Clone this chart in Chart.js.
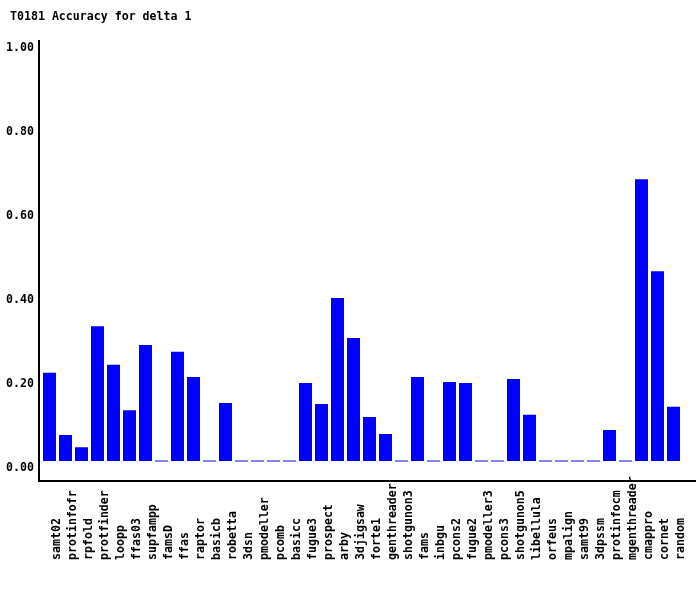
<!DOCTYPE html>
<html>
<head>
<meta charset="utf-8">
<script src="https://cdn.jsdelivr.net/npm/chart.js@4/dist/chart.umd.min.js"></script>
<style>
  body { margin: 0; background: #fff; }
  canvas { display: block; }
</style>
</head>
<body>
<canvas id="bar-chart" width="700" height="590"></canvas>
<script>
const chartTitle = 'T0181 Accuracy for delta 1';
const servers = ['samt02', 'protinfofr', 'rpfold', 'protfinder', 'loopp', 'ffas03', 'supfampp', 'famsD',
    'ffas', 'raptor', 'basicb', 'robetta', '3dsn', 'pmodeller', 'pcomb', 'basicc', 'fugue3', 'prospect',
    'arby', '3djigsaw', 'forte1', 'genthreader', 'shotgunon3', 'fams', 'inbgu', 'pcons2', 'fugue2',
    'pmodeller3', 'pcons3', 'shotgunon5', 'libellula', 'orfeus', 'mpalign', 'samt99', '3dpssm',
    'protinfocm', 'mgenthreader', 'cmappro', 'cornet', 'random'];
const accuracy = [0.210, 0.062, 0.033, 0.321, 0.229, 0.121, 0.276, 0.000,
    0.260, 0.200, 0.000, 0.138, 0.000, 0.000, 0.000, 0.000, 0.186, 0.136,
    0.388, 0.293, 0.105, 0.064, 0.000, 0.200, 0.000, 0.188, 0.186,
    0.000, 0.000, 0.195, 0.110, 0.000, 0.000, 0.000, 0.000,
    0.074, 0.000, 0.671, 0.452, 0.129];
const yTicks = [0.00, 0.20, 0.40, 0.60, 0.80, 1.00];

const monoFont = { family: '"DejaVu Sans Mono", monospace', size: 11.6, weight: 'bold' };
const monoCss = 'bold 11.6px "DejaVu Sans Mono", monospace';

// title, axis lines and the rotated server names (bottom-aligned, which the
// built-in rotated ticks can't do)
const titleAxesNames = {
    id: 'titleAxesNames',
    afterDraw(chart) {
        const ctx = chart.ctx;
        const area = chart.chartArea;
        const xs = chart.scales.x;
        ctx.save();
        ctx.fillStyle = '#000';
        ctx.font = monoCss;
        ctx.textAlign = 'left';
        ctx.textBaseline = 'middle';
        ctx.fillText(chartTitle, 10, 17);

        ctx.fillRect(area.left - 3.5, area.top, 2, area.bottom - area.top + 2);
        ctx.fillRect(area.left - 3.5, area.bottom, chart.width - 4 - (area.left - 3.5), 2);

        ctx.textBaseline = 'alphabetic';
        servers.forEach((name, i) => {
            ctx.save();
            ctx.translate(xs.getPixelForTick(i) + 10.5, area.bottom + 80);
            ctx.rotate(-Math.PI / 2);
            ctx.fillText(name, 0, 0);
            ctx.restore();
        });
        ctx.restore();
    }
};

const ctx = document.getElementById('bar-chart').getContext('2d');
const accChart = new Chart(ctx, {
    type: 'bar',
    data: {
        labels: servers,
        datasets: [{
            data: accuracy,
            backgroundColor: '#0000ff',
            borderWidth: 0,
            barPercentage: 0.8125,
            categoryPercentage: 1,
            minBarLength: 1
        }]
    },
    options: {
        responsive: false,
        animation: false,
        layout: { padding: { left: 0, right: 18.5, top: 40, bottom: 0 } },
        plugins: {
            legend: { display: false },
            tooltip: { enabled: false },
            title: { display: false }
        },
        scales: {
            x: {
                grid: { display: false, drawTicks: false },
                border: { display: false },
                ticks: { display: false },
                afterFit: (s) => { s.height = 110; }
            },
            y: {
                min: -19 / 420,
                max: 421 / 420,
                grid: { display: false, drawTicks: false },
                border: { display: false },
                afterBuildTicks: (s) => { s.ticks = yTicks.map(v => ({ value: v })); },
                afterFit: (s) => { s.width = 41.5; },
                ticks: {
                    color: '#000',
                    font: monoFont,
                    padding: 7.5,
                    labelOffset: 7,
                    callback: (v) => Number(v).toFixed(2)
                }
            }
        }
    },
    plugins: [titleAxesNames]
});
</script>
</body>
</html>
